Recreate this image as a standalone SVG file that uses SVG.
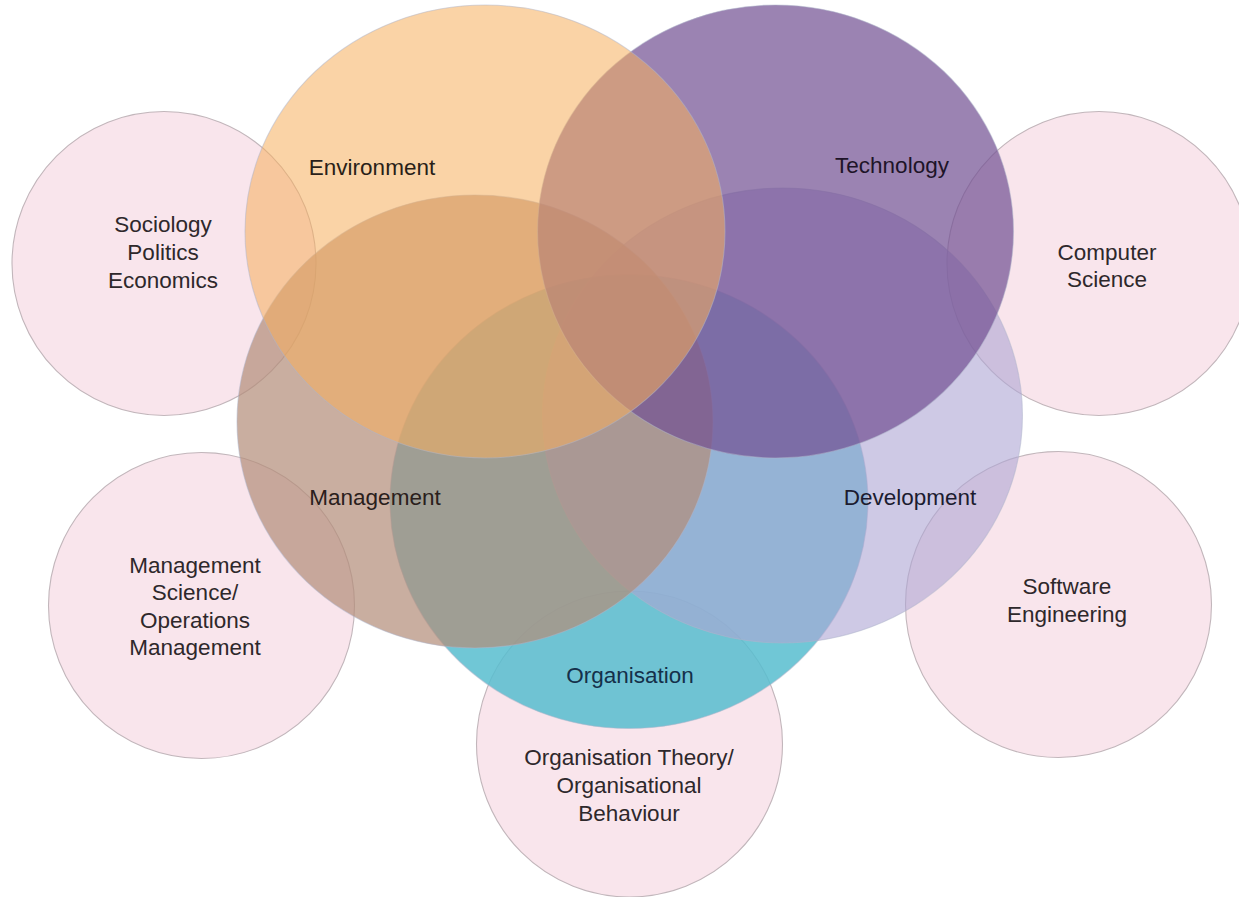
<svg xmlns="http://www.w3.org/2000/svg" width="1239" height="897" viewBox="0 0 1239 897">
<style>
.pink{fill:#f9e5ec;stroke:#c2b6bb;stroke-width:1.1}
.big{stroke:#b0b5cc;stroke-opacity:0.5;stroke-width:1.1}
text{font-family:"Liberation Sans",Arial,sans-serif;font-size:22.5px;text-anchor:middle}
.pl{fill:#2e282b}
</style>
<rect width="1239" height="897" fill="#ffffff"/>
<g id="sociology">
<circle class="pink" cx="164" cy="263.5" r="152"/>
<text class="pl" x="163" y="232">Sociology</text>
<text class="pl" x="163" y="260">Politics</text>
<text class="pl" x="163" y="288">Economics</text>
</g>
<g id="computer-science">
<circle class="pink" cx="1099" cy="263.5" r="152"/>
<text class="pl" x="1107" y="260">Computer</text>
<text class="pl" x="1107" y="287">Science</text>
</g>
<g id="management-science">
<circle class="pink" cx="201.5" cy="605.5" r="153"/>
<text class="pl" x="195" y="573">Management</text>
<text class="pl" x="195" y="600">Science/</text>
<text class="pl" x="195" y="628">Operations</text>
<text class="pl" x="195" y="655">Management</text>
</g>
<g id="software-engineering">
<circle class="pink" cx="1058.5" cy="604.5" r="153"/>
<text class="pl" x="1067" y="594">Software</text>
<text class="pl" x="1067" y="622">Engineering</text>
</g>
<g id="organisation-theory">
<circle class="pink" cx="629.5" cy="744" r="153"/>
<text class="pl" x="629" y="765">Organisation Theory/</text>
<text class="pl" x="629" y="793">Organisational</text>
<text class="pl" x="629" y="821">Behaviour</text>
</g>
<g id="organisation">
<ellipse class="big" cx="629" cy="501.5" rx="239" ry="227" fill="#57bdcf" fill-opacity="0.85"/>
<text x="630" y="683" fill="#15304a">Organisation</text>
</g>
<g id="development">
<ellipse class="big" cx="782.5" cy="415.5" rx="240" ry="227.5" fill="#ada5d4" fill-opacity="0.6"/>
<text x="910" y="505" fill="#1c1c30">Development</text>
</g>
<g id="management">
<ellipse class="big" cx="475" cy="421.5" rx="238" ry="226.5" fill="#b38d79" fill-opacity="0.71"/>
<text x="375" y="505" fill="#2a201c">Management</text>
</g>
<g id="technology">
<ellipse class="big" cx="775.5" cy="231.5" rx="238" ry="226.5" fill="#725092" fill-opacity="0.71"/>
<text x="892" y="173" fill="#1e1428">Technology</text>
</g>
<g id="environment">
<ellipse class="big" cx="485" cy="231.5" rx="240" ry="226.5" fill="#f6af5d" fill-opacity="0.55"/>
<text x="372" y="175" fill="#2a1f18">Environment</text>
</g>
<g id="connectors"/>
</svg>
